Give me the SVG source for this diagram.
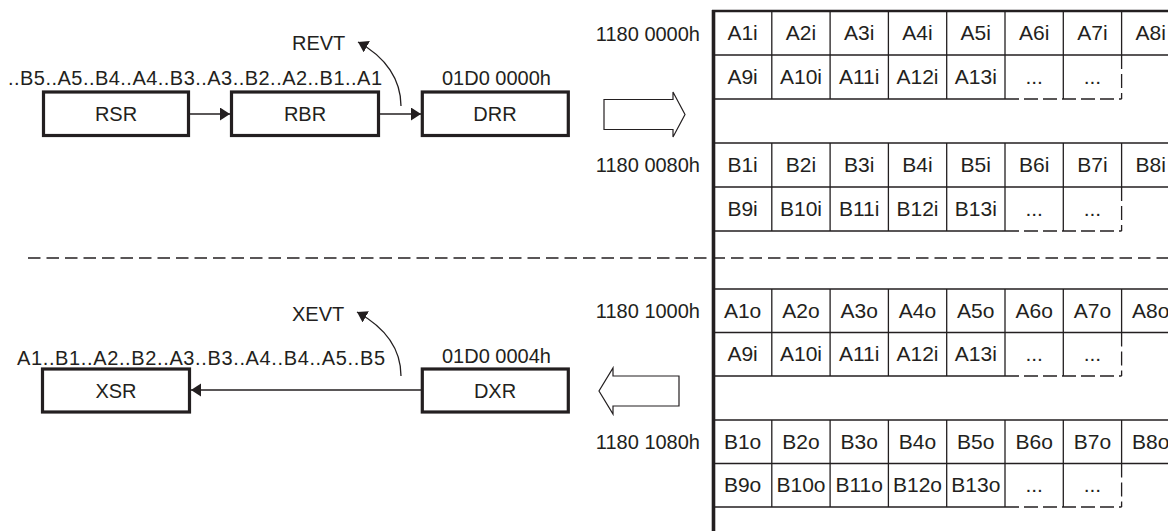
<svg xmlns="http://www.w3.org/2000/svg" width="1168" height="531" viewBox="0 0 1168 531">
<style>
text { font-family: "Liberation Sans", Arial, sans-serif; font-size: 20px; fill: #231f20; }
.c { text-anchor: middle; }
.e { text-anchor: end; }
#cells text { font-size: 21px; }
.box { fill: #fff; stroke: #231f20; stroke-width: 3.2; }
.ln { stroke: #231f20; stroke-width: 1.3; fill: none; }
.dsh { stroke: #231f20; stroke-width: 1.3; fill: none; stroke-dasharray: 14 5; }
.sep { stroke: #231f20; stroke-width: 1.3; fill: none; stroke-dasharray: 12.5 6; }
.hollow { fill: #fff; stroke: #231f20; stroke-width: 1.2; stroke-linejoin: miter; }
.conn { stroke: #231f20; stroke-width: 1.3; fill: none; marker-end: url(#ah); }
</style>
<defs>
<marker id="ah" markerUnits="userSpaceOnUse" markerWidth="12" markerHeight="14" refX="10" refY="6.5" orient="auto">
<path d="M0,0 L10,6.5 L0,13 z" fill="#231f20"/>
</marker>
</defs>
<rect width="1168" height="531" fill="#fff"/>

<!-- separator -->
<path class="sep" d="M28,258 H1168"/>

<!-- receive side -->
<g id="revt-label"><text x="292" y="50">REVT</text></g>
<g id="rx-sequence"><text x="8" y="85" textLength="374" lengthAdjust="spacing">..B5..A5..B4..A4..B3..A3..B2..A2..B1..A1</text></g>
<g id="RSR"><rect class="box" x="43.5" y="92" width="145" height="43.5"/><text class="c" x="116" y="121">RSR</text></g>
<g id="RBR"><rect class="box" x="231.5" y="92" width="147" height="43.5"/><text class="c" x="305" y="121">RBR</text></g>
<g id="DRR"><text class="c" x="496.5" y="85">01D0 0000h</text><rect class="box" x="422.3" y="92" width="146" height="43.5"/><text class="c" x="495" y="121">DRR</text></g>
<g id="rx-bigarrow"><polygon class="hollow" points="604,99.5 673,99.5 673,92 685,114.5 673,137 673,129.5 604,129.5"/></g>

<!-- transmit side -->
<g id="xevt-label"><text x="292" y="320.5">XEVT</text></g>
<g id="tx-sequence"><text x="17" y="365" textLength="368" lengthAdjust="spacing">A1..B1..A2..B2..A3..B3..A4..B4..A5..B5</text></g>
<g id="XSR"><rect class="box" x="42.5" y="369" width="147" height="43"/><text class="c" x="116" y="398">XSR</text></g>
<g id="DXR"><text class="c" x="496.5" y="363">01D0 0004h</text><rect class="box" x="422.3" y="369" width="146" height="43"/><text class="c" x="495" y="398">DXR</text></g>
<g id="tx-bigarrow"><polygon class="hollow" points="679,376 613,376 613,368 599,391 613,414 613,406 679,406"/></g>

<!-- connectors -->
<g id="connectors">
<path class="conn" d="M190,114 H230"/>
<path class="conn" d="M380,114 H421"/>
<path class="conn" d="M401,106 C401,80 386,57 358,42"/>
<path class="conn" d="M421,390 H191"/>
<path class="conn" d="M401,376 C401,350 386,328 357,312"/>
</g>

<!-- memory table -->
<g id="memory">
<path class="ln" d="M713.5,10 V531" style="stroke-width:3.6"/>
<path class="ln" d="M712,11 H1168" style="stroke-width:2.5"/>
<path class="ln" d="M713.5,55H1168 M713.5,99H1005 M771.8,11V99 M830.1,11V99 M888.4,11V99 M946.7,11V99 M1005,11V99 M1063.3,11V99 M1121.6,11V55"/>
<path class="dsh" d="M1005,99H1121.6 M1121.6,55V99"/>
<path class="ln" d="M713.5,143H1168 M713.5,187H1168 M713.5,231H1005 M771.8,143V231 M830.1,143V231 M888.4,143V231 M946.7,143V231 M1005,143V231 M1063.3,143V231 M1121.6,143V187"/>
<path class="dsh" d="M1005,231H1121.6 M1121.6,187V231"/>
<path class="ln" d="M713.5,289H1168 M713.5,332.5H1168 M713.5,376H1005 M771.8,289V376 M830.1,289V376 M888.4,289V376 M946.7,289V376 M1005,289V376 M1063.3,289V376 M1121.6,289V332.5"/>
<path class="dsh" d="M1005,376H1121.6 M1121.6,332.5V376"/>
<path class="ln" d="M713.5,420H1168 M713.5,463.5H1168 M713.5,507H1005 M771.8,420V507 M830.1,420V507 M888.4,420V507 M946.7,420V507 M1005,420V507 M1063.3,420V507 M1121.6,420V463.5"/>
<path class="dsh" d="M1005,507H1121.6 M1121.6,463.5V507"/>
</g>

<g id="addresses">
<text class="e" x="700" y="41">1180 0000h</text>
<text class="e" x="700" y="172">1180 0080h</text>
<text class="e" x="700" y="318">1180 1000h</text>
<text class="e" x="700" y="449">1180 1080h</text>
</g>

<g id="cells">
<text class="c" x="742.6" y="40">A1i</text><text class="c" x="801" y="40">A2i</text><text class="c" x="859.2" y="40">A3i</text><text class="c" x="917.5" y="40">A4i</text><text class="c" x="975.8" y="40">A5i</text><text class="c" x="1034.2" y="40">A6i</text><text class="c" x="1092.4" y="40">A7i</text><text class="c" x="1150.8" y="40">A8i</text>
<text class="c" x="742.6" y="84">A9i</text><text class="c" x="801" y="84">A10i</text><text class="c" x="859.2" y="84">A11i</text><text class="c" x="917.5" y="84">A12i</text><text class="c" x="975.8" y="84">A13i</text><text class="c" x="1034.2" y="84">...</text><text class="c" x="1092.4" y="84">...</text>
<text class="c" x="742.6" y="172">B1i</text><text class="c" x="801" y="172">B2i</text><text class="c" x="859.2" y="172">B3i</text><text class="c" x="917.5" y="172">B4i</text><text class="c" x="975.8" y="172">B5i</text><text class="c" x="1034.2" y="172">B6i</text><text class="c" x="1092.4" y="172">B7i</text><text class="c" x="1150.8" y="172">B8i</text>
<text class="c" x="742.6" y="216">B9i</text><text class="c" x="801" y="216">B10i</text><text class="c" x="859.2" y="216">B11i</text><text class="c" x="917.5" y="216">B12i</text><text class="c" x="975.8" y="216">B13i</text><text class="c" x="1034.2" y="216">...</text><text class="c" x="1092.4" y="216">...</text>
<text class="c" x="742.6" y="318">A1o</text><text class="c" x="801" y="318">A2o</text><text class="c" x="859.2" y="318">A3o</text><text class="c" x="917.5" y="318">A4o</text><text class="c" x="975.8" y="318">A5o</text><text class="c" x="1034.2" y="318">A6o</text><text class="c" x="1092.4" y="318">A7o</text><text class="c" x="1150.8" y="318">A8o</text>
<text class="c" x="742.6" y="361">A9i</text><text class="c" x="801" y="361">A10i</text><text class="c" x="859.2" y="361">A11i</text><text class="c" x="917.5" y="361">A12i</text><text class="c" x="975.8" y="361">A13i</text><text class="c" x="1034.2" y="361">...</text><text class="c" x="1092.4" y="361">...</text>
<text class="c" x="742.6" y="449">B1o</text><text class="c" x="801" y="449">B2o</text><text class="c" x="859.2" y="449">B3o</text><text class="c" x="917.5" y="449">B4o</text><text class="c" x="975.8" y="449">B5o</text><text class="c" x="1034.2" y="449">B6o</text><text class="c" x="1092.4" y="449">B7o</text><text class="c" x="1150.8" y="449">B8o</text>
<text class="c" x="742.6" y="492">B9o</text><text class="c" x="801" y="492">B10o</text><text class="c" x="859.2" y="492">B11o</text><text class="c" x="917.5" y="492">B12o</text><text class="c" x="975.8" y="492">B13o</text><text class="c" x="1034.2" y="492">...</text><text class="c" x="1092.4" y="492">...</text>
</g>
</svg>
